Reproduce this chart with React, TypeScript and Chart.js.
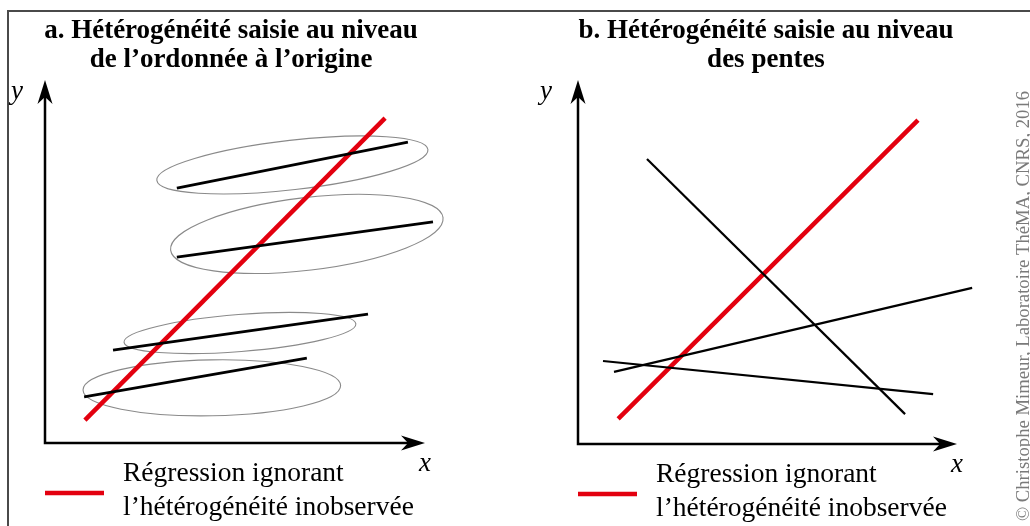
import React, { useEffect, useRef } from "react";
import { Chart, registerables } from "chart.js";

Chart.register(...registerables);

// ---------- data (axis units 0..10 on both axes, origin at the axes corner) ----------
const axisMax = 10;

// Panel a: intercept heterogeneity
const regressionA = [
  { x: 1.05, y: 0.63 },
  { x: 8.95, y: 8.95 },
];
const groupLinesA = [
  [{ x: 3.47, y: 7.02 }, { x: 9.55, y: 8.29 }],
  [{ x: 3.47, y: 5.12 }, { x: 10.21, y: 6.09 }],
  [{ x: 1.79, y: 2.56 }, { x: 8.5, y: 3.55 }],
  [{ x: 1.03, y: 1.27 }, { x: 6.89, y: 2.34 }],
];
// ellipses: centre x, centre y, half-width (x units), half-height (y units), tilt (deg)
const ellipseCx = [6.51, 6.89, 5.13, 4.39];
const ellipseCy = [7.66, 5.76, 3.03, 1.52];
const ellipseRx = [3.59, 3.61, 3.06, 3.39];
const ellipseRy = [0.68, 1.0, 0.51, 0.77];
const ellipseTilt = [-6.5, -6.8, -4.5, -1];

// Panel b: slope heterogeneity
const regressionB = [
  { x: 1.06, y: 0.69 },
  { x: 8.97, y: 8.9 },
];
const groupLinesB = [
  [{ x: 1.82, y: 7.83 }, { x: 8.63, y: 0.82 }],
  [{ x: 0.95, y: 1.98 }, { x: 10.4, y: 4.29 }],
  [{ x: 0.66, y: 2.28 }, { x: 9.37, y: 1.37 }],
];

const titleA = ["a. Hétérogénéité saisie au niveau", "de l’ordonnée à l’origine"];
const titleB = ["b. Hétérogénéité saisie au niveau", "des pentes"];
const legendText = ["Régression ignorant", "l’hétérogénéité inobservée"];
const copyrightText = "© Christophe Mimeur, Laboratoire ThéMA, CNRS, 2016";

const RED = "#e3000f";
const SERIF = '"Liberation Serif", "Times New Roman", serif';

type Pt = { x: number; y: number };

interface PanelProps {
  left: number;
  width: number;
  padding: { left: number; right: number; top: number; bottom: number };
  regression: Pt[];
  groups: Pt[][];
  groupWidth: number;
  ellipses: boolean;
  title: string[];
  titleX: number;
  yLabelX: number;
  copyright: boolean;
}

const arrowHead = (ctx: CanvasRenderingContext2D, tx: number, ty: number, dir: "up" | "right") => {
  const len = 24;
  const half = 7.5;
  const notch = 7;
  ctx.beginPath();
  if (dir === "up") {
    ctx.moveTo(tx, ty);
    ctx.lineTo(tx + half, ty + len);
    ctx.lineTo(tx, ty + len - notch);
    ctx.lineTo(tx - half, ty + len);
  } else {
    ctx.moveTo(tx, ty);
    ctx.lineTo(tx - len, ty - half);
    ctx.lineTo(tx - len + notch, ty);
    ctx.lineTo(tx - len, ty + half);
  }
  ctx.closePath();
  ctx.fillStyle = "#000";
  ctx.fill();
};

function Panel(props: PanelProps) {
  const ref = useRef<HTMLCanvasElement | null>(null);

  useEffect(() => {
    if (!ref.current) return;
    const decor = {
      id: "decor",
      beforeDatasetsDraw(chart: any) {
        const ctx: CanvasRenderingContext2D = chart.ctx;
        const xs = chart.scales.x;
        const ys = chart.scales.y;
        ctx.save();
        // ellipses
        if (props.ellipses) {
          ctx.strokeStyle = "#8a8a8a";
          ctx.lineWidth = 1.1;
          for (let i = 0; i < ellipseCx.length; i++) {
            const cx = xs.getPixelForValue(ellipseCx[i]);
            const cy = ys.getPixelForValue(ellipseCy[i]);
            const rx = Math.abs(xs.getPixelForValue(ellipseRx[i]) - xs.getPixelForValue(0));
            const ry = Math.abs(ys.getPixelForValue(ellipseRy[i]) - ys.getPixelForValue(0));
            ctx.beginPath();
            ctx.ellipse(cx, cy, rx, ry, (ellipseTilt[i] * Math.PI) / 180, 0, Math.PI * 2);
            ctx.stroke();
          }
        }
        // axes
        const x0 = xs.getPixelForValue(0);
        const y0 = ys.getPixelForValue(0);
        const xEnd = xs.getPixelForValue(axisMax);
        const yEnd = ys.getPixelForValue(axisMax);
        ctx.strokeStyle = "#000";
        ctx.lineWidth = 2.5;
        ctx.lineCap = "butt";
        ctx.beginPath();
        ctx.moveTo(x0, yEnd + 15);
        ctx.lineTo(x0, y0);
        ctx.lineTo(xEnd - 15, y0);
        ctx.stroke();
        arrowHead(ctx, x0, yEnd, "up");
        arrowHead(ctx, xEnd, y0, "right");
        ctx.restore();
      },
      afterDraw(chart: any) {
        const ctx: CanvasRenderingContext2D = chart.ctx;
        const xs = chart.scales.x;
        const ys = chart.scales.y;
        const x0 = xs.getPixelForValue(0);
        const y0 = ys.getPixelForValue(0);
        const xEnd = xs.getPixelForValue(axisMax);
        ctx.save();
        ctx.fillStyle = "#000";
        // title
        ctx.font = `bold 27px ${SERIF}`;
        ctx.textAlign = "center";
        ctx.textBaseline = "middle";
        ctx.fillText(props.title[0], props.titleX, 31);
        ctx.fillText(props.title[1], props.titleX, 60);
        // axis labels
        ctx.font = `italic 27px ${SERIF}`;
        ctx.fillText("y", props.yLabelX, 92);
        ctx.fillText("x", xEnd, y0 + 21);
        // legend
        ctx.strokeStyle = RED;
        ctx.lineWidth = 4.5;
        ctx.beginPath();
        ctx.moveTo(x0, y0 + 50);
        ctx.lineTo(x0 + 59, y0 + 50);
        ctx.stroke();
        ctx.font = `27.5px ${SERIF}`;
        ctx.textAlign = "left";
        ctx.fillText(legendText[0], x0 + 78, y0 + 31);
        ctx.fillText(legendText[1], x0 + 78, y0 + 65);
        // copyright
        if (props.copyright) {
          ctx.translate(chart.width - 6, 306);
          ctx.rotate(-Math.PI / 2);
          ctx.textAlign = "center";
          ctx.fillStyle = "#7a7a7a";
          ctx.font = `18.7px ${SERIF}`;
          ctx.fillText(copyrightText, 0, 0);
        }
        ctx.restore();
      },
    };

    const datasets: any[] = [];
    props.groups.forEach((g) =>
      datasets.push({
        data: g,
        showLine: true,
        borderColor: "#000",
        borderWidth: props.groupWidth,
        pointRadius: 0,
        clip: false,
      })
    );
    datasets.push({
      data: props.regression,
      showLine: true,
      borderColor: RED,
      borderWidth: 4.5,
      pointRadius: 0,
      clip: false,
    });

    const chart = new Chart(ref.current, {
      type: "scatter",
      data: { datasets },
      options: {
        animation: false,
        responsive: false,
        maintainAspectRatio: false,
        layout: { padding: props.padding },
        scales: {
          x: { type: "linear", min: 0, max: axisMax, display: false },
          y: { type: "linear", min: 0, max: axisMax, display: false },
        },
        plugins: { legend: { display: false }, tooltip: { enabled: false }, title: { display: false } },
      },
      plugins: [decor],
    } as any);
    return () => chart.destroy();
  }, []);

  return (
    <canvas
      ref={ref}
      width={props.width}
      height={526}
      style={{ position: "absolute", left: props.left, top: 0, width: props.width, height: 526 }}
    />
  );
}

export default function App() {
  return (
    <div style={{ position: "absolute", left: 0, top: 0, width: 1030, height: 526, background: "#fff", overflow: "hidden" }}>
      <div
        style={{
          position: "absolute",
          left: 7,
          top: 10,
          width: 1030 - 7,
          height: 526 - 10,
          borderTop: "2px solid #4a4a4a",
          borderLeft: "2px solid #4a4a4a",
          boxSizing: "border-box",
        }}
      />
      <Panel
        left={0}
        width={515}
        padding={{ left: 45, right: 515 - 425, top: 80, bottom: 526 - 443 }}
        regression={regressionA}
        groups={groupLinesA}
        groupWidth={2.8}
        ellipses={true}
        title={titleA}
        titleX={231}
        yLabelX={17}
        copyright={false}
      />
      <Panel
        left={515}
        width={515}
        padding={{ left: 578 - 515, right: 1030 - 957, top: 80, bottom: 526 - 444 }}
        regression={regressionB}
        groups={groupLinesB}
        groupWidth={2.2}
        ellipses={false}
        title={titleB}
        titleX={251}
        yLabelX={546 - 515}
        copyright={true}
      />
    </div>
  );
}
